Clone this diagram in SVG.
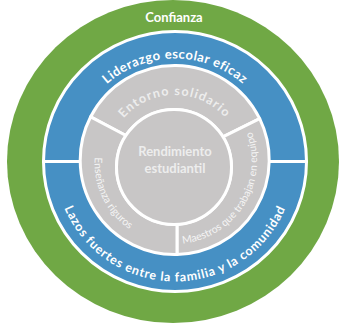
<svg xmlns="http://www.w3.org/2000/svg" width="345" height="326" viewBox="0 0 345 326">
<style>
.lbl{font-family:Lato,"Open Sans","Liberation Sans",sans-serif;font-weight:bold}
.w{fill:#ffffff}
.lg{fill:#EDEDED}
.sm{font-family:Lato,"Open Sans","Liberation Sans",sans-serif;font-size:10.5px;fill:#F4F4F4}
.ring{stroke:#ffffff;stroke-width:3;stroke-linejoin:round}
.blue{fill:#4690C4}
.gray{fill:#C8C6C6}
</style>
<defs>
<path id="pTop" d="M72,161.5 A103,103 0 0 1 278,161.5"/>
<path id="pBot" d="M55,161.5 A120,120 0 0 0 295,161.5"/>
<path id="pEnt" d="M106.7,163 A68,68 0 0 1 242.7,163"/>
<path id="pEns" d="M94.7,157.4 A80,80 0 0 0 160.6,241.8"/>
<path id="pMae" d="M182.7,243.5 A83,83 0 0 0 237.6,107.6"/>
</defs>
<rect width="345" height="326" fill="#ffffff"/>
<g id="confianza">
<ellipse cx="173" cy="161.5" rx="166" ry="161.5" fill="#70A845"/>
<text class="lbl w" x="174" y="21.5" font-size="13" text-anchor="middle">Confianza</text>
</g>
<g id="liderazgo">
<path class="ring blue" d="M43.5,161.5 A131.5,130 0 0 1 306.5,161.5 Z"/>
<text class="lbl w" font-size="13" letter-spacing="0.5"><textPath href="#pTop" startOffset="50%" text-anchor="middle">Liderazgo escolar eficaz</textPath></text>
</g>
<g id="lazos">
<path class="ring blue" d="M43.5,161.5 A131.5,130 0 0 0 306.5,161.5 Z"/>
<text class="lbl w" font-size="12.5" letter-spacing="0.8"><textPath href="#pBot" startOffset="50%" text-anchor="middle">Lazos fuertes entre la familia y la comunidad</textPath></text>
</g>
<g id="entorno">
<path class="ring gray" d="M90.65,116.8 A94.5,94.5 0 0 1 259.7,118.7 L222.9,136.8 A57.5,57.5 0 0 0 125.9,135.5 Z"/>
<text class="lbl lg" font-size="12.5" letter-spacing="1.2"><textPath href="#pEnt" startOffset="50%" text-anchor="middle">Entorno solidario</textPath></text>
</g>
<g id="maestros">
<path class="ring gray" d="M259.7,118.7 A94.5,94.5 0 0 1 177,254.5 L177,224.4 A57.5,57.5 0 0 0 222.9,136.8 Z"/>
<text class="sm"><textPath href="#pMae">Maestros que trabajan en equipo</textPath></text>
</g>
<g id="ensenanza">
<path class="ring gray" d="M177,254.5 A94.5,94.5 0 0 1 90.65,116.8 L125.9,135.5 A57.5,57.5 0 0 0 177,224.4 Z"/>
<text class="sm"><textPath href="#pEns">Enseñanza riguros</textPath></text>
</g>
<g id="rendimiento">
<circle class="ring gray" cx="174" cy="167" r="57.5"/>
<text class="lbl lg" font-size="13" text-anchor="middle"><tspan x="175" y="156">Rendimiento</tspan><tspan x="175" y="173">estudiantil</tspan></text>
</g>
<g id="connectors"/>
</svg>
